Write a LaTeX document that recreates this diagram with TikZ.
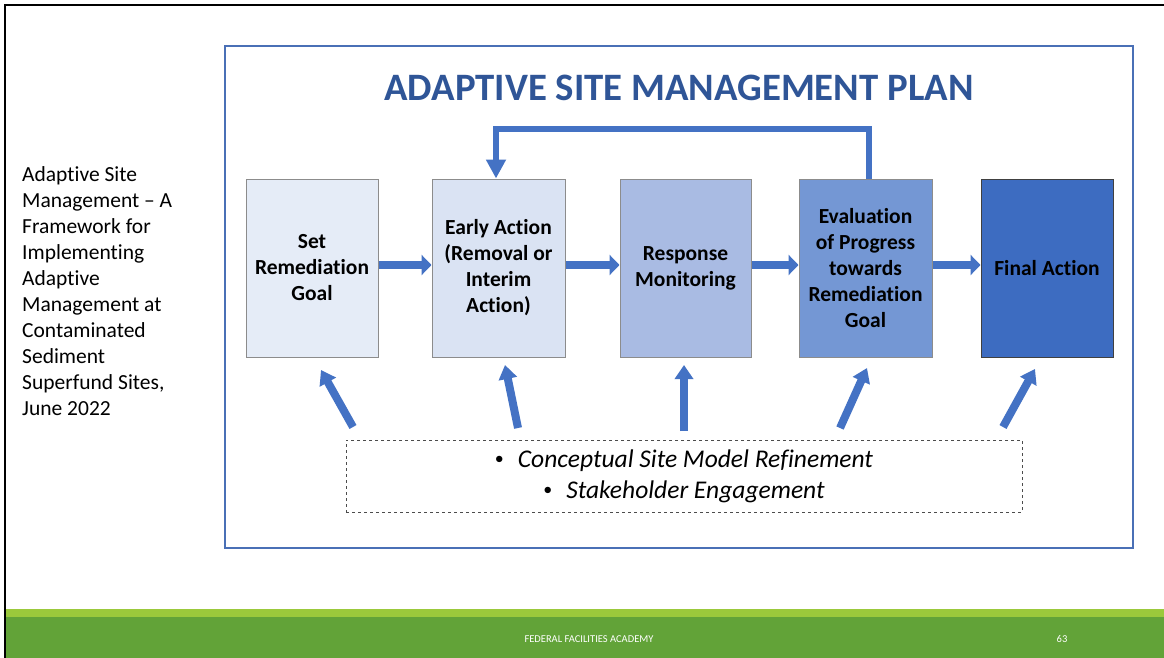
\documentclass[tikz,border=0pt]{standalone}
\usepackage{fontspec}
\setmainfont{Carlito}[RawFeature={-liga}]
\usetikzlibrary{arrows.meta}
\definecolor{arrowblue}{HTML}{4472C4}
\definecolor{titleblue}{HTML}{2F5597}
\definecolor{frameblue}{HTML}{4A70B6}
\definecolor{cA}{HTML}{E5ECF7}
\definecolor{cB}{HTML}{DAE3F3}
\definecolor{cC}{HTML}{A9BBE3}
\definecolor{cD}{HTML}{7497D4}
\definecolor{cE}{HTML}{3D6CC1}
\definecolor{boxgray}{HTML}{8C8C8C}
\definecolor{footlight}{HTML}{9BC93B}
\definecolor{footdark}{HTML}{62A338}
\newcommand{\mybul}{\raisebox{3pt}{\upshape\fontsize{18}{18}\selectfont\textbullet}\hspace{14pt}}
\tikzset{
  stepbox/.style={draw=boxgray, line width=1pt, minimum width=132pt, minimum height=178pt,
    inner sep=0pt, align=center, font=\bfseries\fontsize{21.5}{26}\selectfont},
  harrow/.style={arrowblue, line width=8pt, -{Triangle[length=10pt,width=20pt]}},
  fbarrow/.style={arrowblue, line width=6pt, -{Triangle[length=19pt,width=19pt]}},
  uparrow/.style={arrowblue, line width=8pt, -{Triangle[length=14pt,width=18pt]}},
}
\begin{document}
\begin{tikzpicture}[x=1pt,y=-1pt]
\useasboundingbox (0,0) rectangle (1164,658);
\fill[white] (0,0) rectangle (1164,658);
% footer
\fill[footlight] (6,609) rectangle (1164,617);
\fill[footdark] (6,617) rectangle (1164,658);
\node[text=white, font=\fontsize{10.5}{12}\selectfont, inner sep=0pt] (foot) at (589,639) {FEDERAL FACILITIES ACADEMY};
\node[text=white, font=\fontsize{10.5}{12}\selectfont, inner sep=0pt] (pnum) at (1062,639) {63};
% outer black frame
\draw[line width=2pt] (5,658) -- (5,5) -- (1164,5);
% left caption
\node[anchor=north west, align=left, inner sep=0pt, font=\fontsize{21.5}{26}\selectfont] (cap) at (22,166.5)
  {Adaptive Site\\Management – A\\Framework for\\Implementing\\Adaptive\\Management at\\Contaminated\\Sediment\\Superfund Sites,\\June 2022};
% blue frame
\draw[frameblue, line width=1.5pt] (225,46) rectangle (1133,548);
\node[text=titleblue, font=\bfseries\fontsize{38.8}{44}\selectfont, inner sep=0pt] (title) at (679,88) {ADAPTIVE SITE MANAGEMENT PLAN};
% boxes
\node[stepbox, fill=cA] (b1) at (312,268) {Set\\Remediation\\Goal};
\node[stepbox, fill=cB, minimum width=133pt] (b2) at (498.5,268) {Early Action\\(Removal or\\Interim\\Action)};
\node[stepbox, fill=cC, minimum width=131pt] (b3) at (685.5,268) {Response\\Monitoring};
\node[stepbox, fill=cD, minimum width=133pt] (b4) at (865.5,268) {Evaluation\\of Progress\\towards\\Remediation\\Goal};
\node[stepbox, fill=cE, draw=black!75] (b5) at (1047,268) {Final Action};
% horizontal arrows
\draw[harrow] ([yshift=3pt]b1.east) -- ([yshift=3pt]b2.west);
\draw[harrow] ([yshift=3pt]b2.east) -- ([yshift=3pt]b3.west);
\draw[harrow] ([yshift=3pt]b3.east) -- ([yshift=3pt]b4.west);
\draw[harrow] ([yshift=3pt]b4.east) -- ([yshift=3pt]b5.west);
% feedback loop
\draw[fbarrow] ([xshift=3.5pt]b4.north) -- ++(0,-49) -| ([xshift=-2.5pt]b2.north);
% dashed box
\node[draw=black!70, dashed, line width=0.6pt, minimum width=676pt, minimum height=72pt, inner sep=0pt,
  align=center, font=\itshape\fontsize{25.5}{31}\selectfont] (csm) at (684,476)
  {\mybul Conceptual Site Model Refinement\\\mybul Stakeholder Engagement};
% upward arrows
\coordinate (t1) at (353,427); \coordinate (h1) at (321,370);
\coordinate (t2) at (518,428); \coordinate (h2) at (505,365);
\coordinate (t3) at (684,431); \coordinate (h3) at (684,365);
\coordinate (t4) at (840,428); \coordinate (h4) at (867,368);
\coordinate (t5) at (1003,427); \coordinate (h5) at (1035,369);
\draw[uparrow] (t1) -- (h1);
\draw[uparrow] (t2) -- (h2);
\draw[uparrow] (t3) -- (h3);
\draw[uparrow] (t4) -- (h4);
\draw[uparrow] (t5) -- (h5);
\end{tikzpicture}
\end{document}
